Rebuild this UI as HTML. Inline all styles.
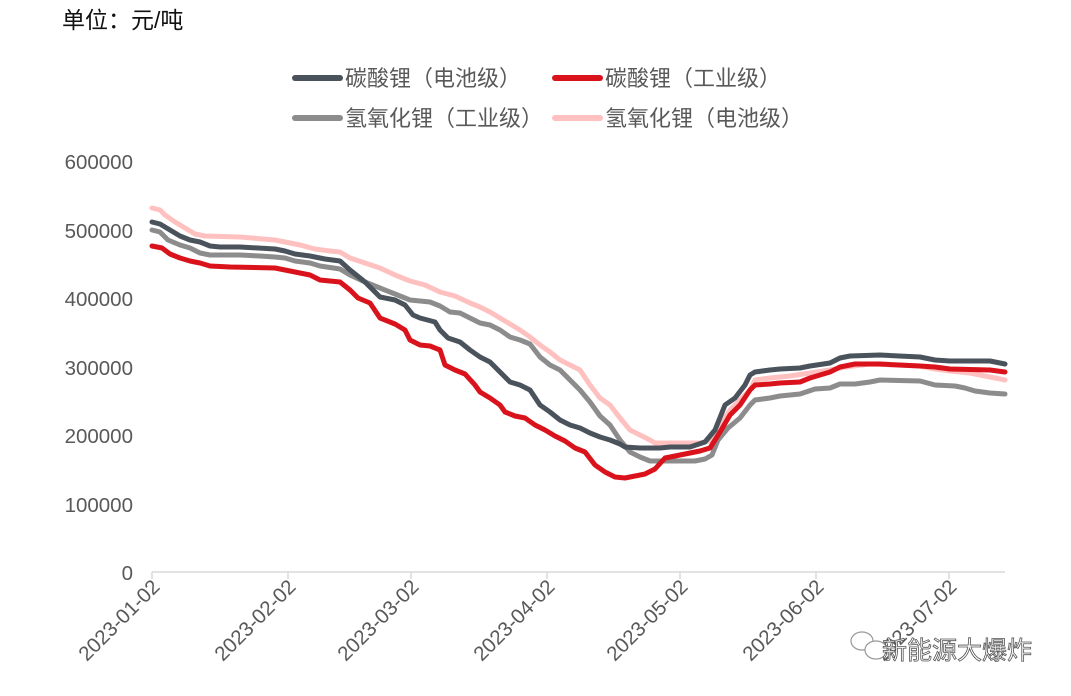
<!DOCTYPE html>
<html><head><meta charset="utf-8"><style>
html,body{margin:0;padding:0;background:#fff;width:1071px;height:696px;overflow:hidden}
</style></head><body>
<svg width="1071" height="696" xmlns="http://www.w3.org/2000/svg" font-family="Liberation Sans, Noto Sans CJK SC, sans-serif">
<text x="62" y="28" font-size="23" fill="#111">单位：元/吨</text>
<g font-size="22" fill="#595959">
<line x1="295" y1="78" x2="340" y2="78" stroke="#4a525c" stroke-width="6" stroke-linecap="round"/>
<text x="345" y="86">碳酸锂（电池级）</text>
<line x1="555" y1="78" x2="600" y2="78" stroke="#d9121b" stroke-width="6" stroke-linecap="round"/>
<text x="605" y="86">碳酸锂（工业级）</text>
<line x1="295" y1="118" x2="340" y2="118" stroke="#8c8c8c" stroke-width="6" stroke-linecap="round"/>
<text x="345" y="126">氢氧化锂（工业级）</text>
<line x1="555" y1="118" x2="600" y2="118" stroke="#ffc0c0" stroke-width="6" stroke-linecap="round"/>
<text x="605" y="126">氢氧化锂（电池级）</text>
</g>
<g font-size="20.5" fill="#595959" text-anchor="end">
<text x="133" y="169">600000</text>
<text x="133" y="238">500000</text>
<text x="133" y="306">400000</text>
<text x="133" y="375">300000</text>
<text x="133" y="443">200000</text>
<text x="133" y="512">100000</text>
<text x="133" y="580">0</text>
</g>
<g stroke="#d9d9d9" stroke-width="1.5">
<line x1="152" y1="572" x2="1005" y2="572"/>
<line x1="152" y1="572" x2="152" y2="579"/><line x1="288" y1="572" x2="288" y2="579"/>
<line x1="411" y1="572" x2="411" y2="579"/><line x1="547" y1="572" x2="547" y2="579"/>
<line x1="680" y1="572" x2="680" y2="579"/><line x1="816" y1="572" x2="816" y2="579"/>
<line x1="949" y1="572" x2="949" y2="579"/>
</g>
<g font-size="20.5" fill="#595959" text-anchor="end">
<text transform="translate(161,588) rotate(-45)">2023-01-02</text>
<text transform="translate(297,588) rotate(-45)">2023-02-02</text>
<text transform="translate(420,588) rotate(-45)">2023-03-02</text>
<text transform="translate(556,588) rotate(-45)">2023-04-02</text>
<text transform="translate(689,588) rotate(-45)">2023-05-02</text>
<text transform="translate(825,588) rotate(-45)">2023-06-02</text>
<text transform="translate(958,588) rotate(-45)">2023-07-02</text>
</g>
<g fill="none" stroke-width="5" stroke-linejoin="round" stroke-linecap="round">
<polyline stroke="#ffc0c0" points="152,208 160,210 165,215 175,222 185,228 195,234 205,236 240,237 275,240 285,242 300,245 315,249 330,251 340,252 350,258 365,263 380,268 395,275 410,281 425,285 440,292 455,296 470,303 480,307 490,312 500,318 510,324 520,330 530,337 540,345 550,352 560,360 570,365 580,370 590,385 600,398 610,405 620,418 630,430 640,435 650,440 655,443 680,443 700,443 712,440 720,425 730,410 740,400 750,390 755,380 770,378 790,376 810,373 830,370 845,367 870,364 920,366 935,369 950,371 970,373 990,377 1005,380"/>
<polyline stroke="#8c8c8c" points="152,230 160,232 168,240 180,245 190,248 200,253 210,255 240,255 260,256 275,257 285,258 295,261 310,263 320,266 340,269 350,275 365,282 380,288 395,294 410,300 420,301 430,302 440,306 450,312 460,313 470,318 480,323 490,325 500,330 510,337 520,340 530,344 540,357 550,365 560,370 570,380 580,390 590,402 600,416 610,425 620,440 630,452 640,457 650,461 670,461 695,461 705,459 712,455 718,440 728,428 740,418 750,405 755,400 770,398 780,396 800,394 815,389 830,388 840,384 855,384 870,382 880,380 920,381 935,385 955,386 965,388 975,391 990,393 1005,394"/>
<polyline stroke="#d9121b" points="152,246 162,248 170,254 180,258 190,261 200,263 210,266 230,267 275,268 285,270 300,273 310,275 320,280 340,282 345,286 350,290 358,298 370,303 380,318 395,324 405,330 410,340 420,345 430,346 440,350 445,365 455,370 465,374 475,385 480,392 490,398 500,405 505,412 515,416 525,418 535,425 545,430 555,436 565,441 575,448 585,452 595,465 605,472 615,477 625,478 635,476 645,474 655,469 665,458 680,455 690,453 700,451 710,448 720,432 730,415 740,405 750,390 755,385 770,384 780,383 800,382 810,378 830,372 840,367 855,364 880,364 920,366 935,367 950,369 990,370 1005,372"/>
<polyline stroke="#4a525c" points="152,222 160,224 170,230 180,236 190,240 200,242 210,246 220,247 240,247 275,249 285,251 295,254 310,256 325,259 340,261 350,270 365,282 380,297 395,300 405,305 413,315 420,318 435,322 440,330 448,338 460,342 470,350 480,357 490,362 500,372 510,382 520,385 530,390 540,405 550,412 560,420 570,425 580,428 590,433 600,437 610,440 620,444 625,447 640,448 660,448 670,447 690,447 705,442 715,430 725,405 735,398 745,385 750,375 755,372 770,370 780,369 800,368 810,366 830,363 840,358 850,356 880,355 920,357 935,360 950,361 990,361 1005,364"/>
</g>
<g stroke="#999" stroke-width="1.2" fill="#fff">
<ellipse cx="862" cy="641" rx="11" ry="9"/>
<ellipse cx="876" cy="650" rx="11" ry="9"/>
</g>
<text x="882" y="659" font-size="25" fill="#fff" stroke="#555" stroke-width="0.8">新能源大爆炸</text>
</svg>
</body></html>
